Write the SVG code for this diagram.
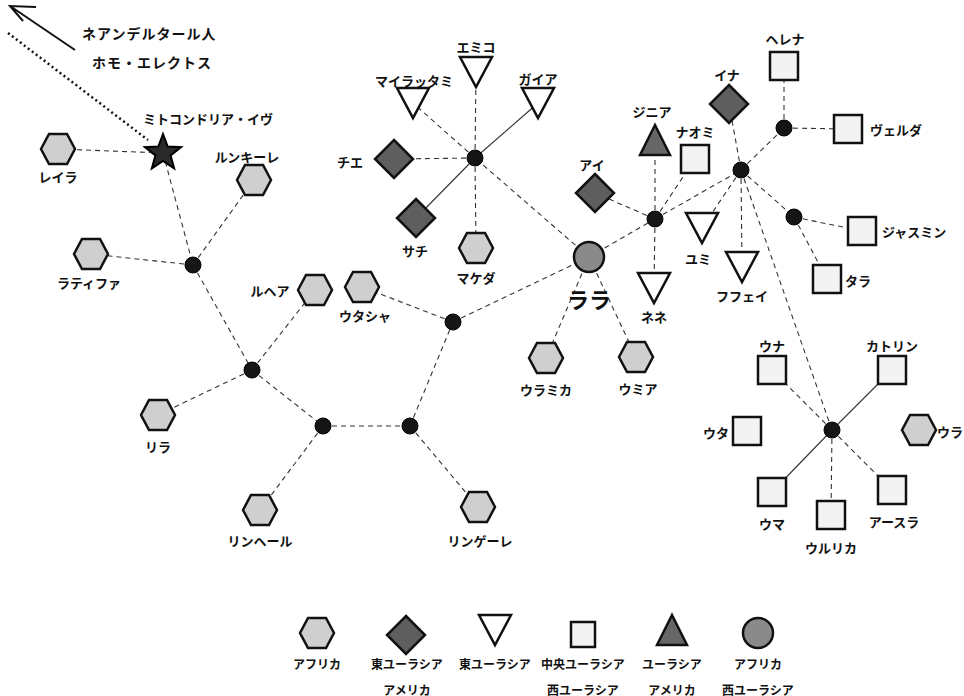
<svg xmlns="http://www.w3.org/2000/svg" xmlns:xlink="http://www.w3.org/1999/xlink" width="964" height="696" viewBox="0 0 964 696">
<style>
text{font-family:"Noto Sans CJK JP","Noto Sans",sans-serif;font-weight:700;fill:#111;font-size:13px;dominant-baseline:central;text-anchor:middle}
.st{text-anchor:start}.en{text-anchor:end}
.big{font-size:22px}
.top{font-size:14px;letter-spacing:1px}
.lg{font-size:12px}
.c line{stroke:#333;stroke-width:1.1;stroke-dasharray:5 4}
.c line.s{stroke-dasharray:none}
.hex{fill:#cfcfcf;stroke:#111;stroke-width:2.5}
.dia{fill:#5e5e5e;stroke:#111;stroke-width:2.5}
.tri{fill:#fff;stroke:#111;stroke-width:2.5}
.sq{fill:#f3f3f3;stroke:#111;stroke-width:2.5}
.tru{fill:#666;stroke:#111;stroke-width:2.5}
.dot{fill:#151515;stroke:#000;stroke-width:1}
</style>
<defs>
<polygon id="hex" points="-17,0 -9,-15 9,-15 17,0 9,15 -9,15"/>
<polygon id="dia" points="0,-19 19,0 0,19 -19,0"/>
<polygon id="tri" points="-16,-15 16,-15 0,15"/>
<polygon id="tru" points="0,-15 15,15 -15,15"/>
<rect id="sq" x="-14" y="-14" width="28" height="28"/>
<circle id="dot" r="8"/>
</defs>

<g id="outgroup">
<path d="M36,7 L10,6 L23,21 M10,6 L75,50" fill="none" stroke="#111" stroke-width="2"/>
<line x1="8" y1="33" x2="148" y2="140" stroke="#111" stroke-width="2.5" stroke-dasharray="2 3"/>
<text class="top st" x="82" y="33">ネアンデルタール人</text>
<text class="top st" x="92" y="62">ホモ・エレクトス</text>
</g>

<g id="connectors" class="c">
<line x1="163" y1="153" x2="58" y2="149"/>
<line x1="163" y1="153" x2="193" y2="265"/>
<line x1="193" y1="265" x2="91" y2="254"/>
<line x1="193" y1="265" x2="254" y2="180"/>
<line x1="193" y1="265" x2="252" y2="370"/>
<line x1="252" y1="370" x2="315" y2="290"/>
<line x1="252" y1="370" x2="158" y2="415"/>
<line x1="252" y1="370" x2="323" y2="426"/>
<line x1="323" y1="426" x2="260" y2="510"/>
<line x1="323" y1="426" x2="410" y2="426"/>
<line x1="410" y1="426" x2="478" y2="507"/>
<line x1="410" y1="426" x2="453" y2="322"/>
<line x1="453" y1="322" x2="362" y2="287"/>
<line x1="453" y1="322" x2="589" y2="257"/>
<line x1="589" y1="257" x2="546" y2="358"/>
<line x1="589" y1="257" x2="636" y2="357"/>
<line x1="589" y1="257" x2="475" y2="158"/>
<line x1="589" y1="257" x2="655" y2="219"/>
<line x1="475" y1="158" x2="413" y2="103"/>
<line x1="475" y1="158" x2="476" y2="72"/>
<line class="s" x1="475" y1="158" x2="538" y2="103"/>
<line x1="475" y1="158" x2="394" y2="159"/>
<line class="s" x1="475" y1="158" x2="416" y2="218"/>
<line x1="475" y1="158" x2="476" y2="248"/>
<line x1="655" y1="219" x2="595" y2="193"/>
<line x1="655" y1="219" x2="655" y2="140"/>
<line x1="655" y1="219" x2="695" y2="159"/>
<line x1="655" y1="219" x2="654" y2="288"/>
<line x1="655" y1="219" x2="741" y2="170"/>
<line x1="741" y1="170" x2="729" y2="104"/>
<line x1="741" y1="170" x2="784" y2="128"/>
<line x1="741" y1="170" x2="702" y2="228"/>
<line x1="741" y1="170" x2="742" y2="267"/>
<line x1="741" y1="170" x2="794" y2="217"/>
<line x1="741" y1="170" x2="832" y2="430"/>
<line x1="784" y1="128" x2="784" y2="66"/>
<line x1="784" y1="128" x2="848" y2="129"/>
<line x1="794" y1="217" x2="862" y2="231"/>
<line x1="794" y1="217" x2="827" y2="279"/>
<line x1="832" y1="430" x2="772" y2="370"/>
<line class="s" x1="832" y1="430" x2="892" y2="370"/>
<line class="s" x1="832" y1="430" x2="772" y2="492"/>
<line x1="832" y1="430" x2="831" y2="515"/>
<line x1="832" y1="430" x2="892" y2="490"/>
</g>

<g id="junctions">
<use href="#dot" class="dot" x="193" y="265"/>
<use href="#dot" class="dot" x="252" y="370"/>
<use href="#dot" class="dot" x="323" y="426"/>
<use href="#dot" class="dot" x="410" y="426"/>
<use href="#dot" class="dot" x="453" y="322"/>
<use href="#dot" class="dot" x="475" y="158"/>
<use href="#dot" class="dot" x="655" y="219"/>
<use href="#dot" class="dot" x="741" y="170"/>
<use href="#dot" class="dot" x="784" y="128"/>
<use href="#dot" class="dot" x="794" y="217"/>
<use href="#dot" class="dot" x="832" y="430"/>
</g>

<g id="eve">
<polygon points="0,-19 4.7,-6.47 18.07,-5.87 7.61,2.47 11.17,15.37 0,8 -11.17,15.37 -7.61,2.47 -18.07,-5.87 -4.7,-6.47" transform="translate(163,153)" fill="#2a2a2a" stroke="#000" stroke-width="2"/>
<text x="208" y="118">ミトコンドリア・イヴ</text>
</g>

<g id="leila"><use href="#hex" class="hex" x="58" y="149"/><text x="58" y="176">レイラ</text></g>
<g id="rungkire"><use href="#hex" class="hex" x="254" y="180"/><text x="247" y="156">ルンキーレ</text></g>
<g id="latifa"><use href="#hex" class="hex" x="91" y="254"/><text x="89" y="282">ラティファ</text></g>
<g id="ruhea"><use href="#hex" class="hex" x="315" y="290"/><text x="270" y="290">ルヘア</text></g>
<g id="utasha"><use href="#hex" class="hex" x="362" y="287"/><text x="365" y="315">ウタシャ</text></g>
<g id="rira"><use href="#hex" class="hex" x="158" y="415"/><text x="158" y="446">リラ</text></g>
<g id="makeda"><use href="#hex" class="hex" x="476" y="248"/><text x="476" y="277">マケダ</text></g>
<g id="uramika"><use href="#hex" class="hex" x="546" y="358"/><text x="546" y="389">ウラミカ</text></g>
<g id="umia"><use href="#hex" class="hex" x="636" y="357"/><text x="638" y="388">ウミア</text></g>
<g id="rinheel"><use href="#hex" class="hex" x="260" y="510"/><text x="260" y="540">リンヘール</text></g>
<g id="lingele"><use href="#hex" class="hex" x="478" y="507"/><text x="480" y="540">リンゲーレ</text></g>
<g id="ura"><use href="#hex" class="hex" x="919" y="430"/><text class="st" x="937" y="431">ウラ</text></g>

<g id="lara"><circle cx="589" cy="257" r="15" fill="#8a8a8a" stroke="#111" stroke-width="2.5"/><text class="big" x="589" y="298">ララ</text></g>

<g id="emiko"><use href="#tri" class="tri" x="476" y="72"/><text x="476" y="46">エミコ</text></g>
<g id="mairatsutami"><use href="#tri" class="tri" x="413" y="103"/><text x="414" y="80">マイラッタミ</text></g>
<g id="gaia"><use href="#tri" class="tri" x="538" y="103"/><text x="538" y="78">ガイア</text></g>
<g id="yumi"><use href="#tri" class="tri" x="702" y="228"/><text x="698" y="258">ユミ</text></g>
<g id="fufei"><use href="#tri" class="tri" x="742" y="267"/><text x="742" y="295">フフェイ</text></g>
<g id="nene"><use href="#tri" class="tri" x="654" y="288"/><text x="654" y="316">ネネ</text></g>

<g id="chie"><use href="#dia" class="dia" x="394" y="159"/><text x="350" y="161">チエ</text></g>
<g id="sachi"><use href="#dia" class="dia" x="416" y="218"/><text x="415" y="250">サチ</text></g>
<g id="ai"><use href="#dia" class="dia" x="595" y="193"/><text x="592" y="164">アイ</text></g>
<g id="ina"><use href="#dia" class="dia" x="729" y="104"/><text x="727" y="74">イナ</text></g>

<g id="jinia"><use href="#tru" class="tru" x="655" y="140"/><text x="652" y="111">ジニア</text></g>

<g id="helena"><use href="#sq" class="sq" x="784" y="66"/><text x="785" y="38">ヘレナ</text></g>
<g id="naomi"><use href="#sq" class="sq" x="695" y="159"/><text x="695" y="131">ナオミ</text></g>
<g id="velda"><use href="#sq" class="sq" x="848" y="129"/><text class="st" x="870" y="129">ヴェルダ</text></g>
<g id="jasmine"><use href="#sq" class="sq" x="862" y="231"/><text class="st" x="882" y="231">ジャスミン</text></g>
<g id="tara"><use href="#sq" class="sq" x="827" y="279"/><text class="st" x="845" y="280">タラ</text></g>
<g id="una"><use href="#sq" class="sq" x="772" y="370"/><text x="772" y="345">ウナ</text></g>
<g id="katrin"><use href="#sq" class="sq" x="892" y="370"/><text x="892" y="345">カトリン</text></g>
<g id="uta"><use href="#sq" class="sq" x="747" y="431"/><text class="en" x="729" y="432">ウタ</text></g>
<g id="uma"><use href="#sq" class="sq" x="772" y="492"/><text x="772" y="523">ウマ</text></g>
<g id="ulrika"><use href="#sq" class="sq" x="831" y="515"/><text x="831" y="547">ウルリカ</text></g>
<g id="arsula"><use href="#sq" class="sq" x="892" y="490"/><text x="894" y="521">アースラ</text></g>

<g id="legend">
<use href="#hex" class="hex" x="317" y="633"/>
<text class="lg" x="317" y="663">アフリカ</text>
<use href="#dia" class="dia" x="406" y="635"/>
<text class="lg" x="407" y="663">東ユーラシア</text>
<text class="lg" x="407" y="689">アメリカ</text>
<use href="#tri" class="tri" x="495" y="630"/>
<text class="lg" x="495" y="663">東ユーラシア</text>
<rect x="571" y="622" width="24" height="25" class="sq"/>
<text class="lg" x="583" y="663">中央ユーラシア</text>
<text class="lg" x="583" y="689">西ユーラシア</text>
<use href="#tru" class="tru" x="672" y="630"/>
<text class="lg" x="672" y="663">ユーラシア</text>
<text class="lg" x="672" y="689">アメリカ</text>
<circle cx="758" cy="633" r="15" fill="#8a8a8a" stroke="#111" stroke-width="2.5"/>
<text class="lg" x="758" y="663">アフリカ</text>
<text class="lg" x="758" y="689">西ユーラシア</text>
</g>
</svg>
